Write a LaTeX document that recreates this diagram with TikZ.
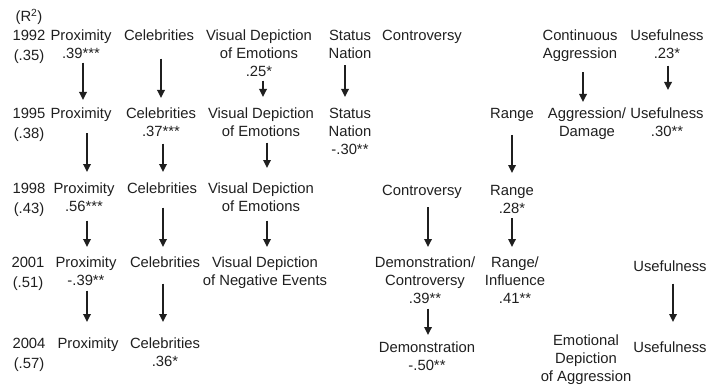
\documentclass[tikz,border=0pt]{standalone}
\usepackage{fontspec}
\setmainfont{Liberation Sans}
\usetikzlibrary{arrows.meta}
\tikzset{
  lbl/.style={inner sep=0pt, anchor=north, align=center, text=black!88,
    font=\fontsize{14.8}{18}\selectfont},
  yr/.style={lbl, font=\fontsize{14.8}{20}\selectfont},
  arr/.style={line width=1.7pt, draw=black!88, -{Triangle[length=8pt,width=7.5pt]}}
}
\begin{document}
\begin{tikzpicture}[x=1pt,y=-1pt]
\useasboundingbox (0,0) rectangle (706,385);
% top = line centre - 5.3
% years
\node[yr] (r2) at (29,9) {(R\textsuperscript{2})};
\node[yr] (y92) at (29,29.7) {1992\\(.35)};
\node[yr] (y95) at (29,107.7) {1995\\(.38)};
\node[yr] (y98) at (29,182.7) {1998\\(.43)};
\node[yr] (y01) at (28,256.7) {2001\\(.51)};
\node[yr] (y04) at (29,337.7) {2004\\(.57)};
% 1992
\node[lbl] (p92) at (81,29.7) {Proximity\\.39***};
\node[lbl] (c92) at (159,29.7) {Celebrities};
\node[lbl] (v92) at (259,29.7) {Visual Depiction\\of Emotions\\.25*};
\node[lbl] (s92) at (350,29.7) {Status\\Nation};
\node[lbl] (k92) at (422,29.7) {Controversy};
\node[lbl] (a92) at (580,29.7) {Continuous\\Aggression};
\node[lbl] (u92) at (667,29.7) {Usefulness\\.23*};
% 1995
\node[lbl] (p95) at (81,107.7) {Proximity};
\node[lbl] (c95) at (161,107.7) {Celebrities\\.37***};
\node[lbl] (v95) at (261,107.7) {Visual Depiction\\of Emotions};
\node[lbl] (s95) at (350,107.7) {Status\\Nation\\-.30**};
\node[lbl] (r95) at (512,107.7) {Range};
\node[lbl] (a95) at (587,107.7) {Aggression/\\Damage};
\node[lbl] (u95) at (667,107.7) {Usefulness\\.30**};
% 1998
\node[lbl] (p98) at (84,182.7) {Proximity\\.56***};
\node[lbl] (c98) at (162,182.7) {Celebrities};
\node[lbl] (v98) at (261,182.7) {Visual Depiction\\of Emotions};
\node[lbl] (k98) at (422,184.7) {Controversy};
\node[lbl] (r98) at (512,184.7) {Range\\.28*};
% 2001
\node[lbl] (p01) at (86,256.7) {Proximity\\-.39**};
\node[lbl] (c01) at (165,256.7) {Celebrities};
\node[lbl] (v01) at (265,256.7) {Visual Depiction\\of Negative Events};
\node[lbl] (d01) at (425,256.7) {Demonstration/\\Controversy\\.39**};
\node[lbl] (r01) at (515,256.7) {Range/\\Influence\\.41**};
\node[lbl] (u01) at (670,260.7) {Usefulness};
% 2004
\node[lbl] (p04) at (88,337.7) {Proximity};
\node[lbl] (c04) at (165,337.7) {Celebrities\\.36*};
\node[lbl] (d04) at (427,341.7) {Demonstration\\-.50**};
\node[lbl] (e04) at (586,334.7) {Emotional\\Depiction\\of Aggression};
\node[lbl] (u04) at (670,341.7) {Usefulness};
% arrows
\draw[arr, shorten <=3.7pt, shorten >=7.7pt] ([xshift=2pt]p92.south) -- ([xshift=2pt]p92.south |- p95.north);
\draw[arr, shorten <=17.7pt, shorten >=9.7pt] ([xshift=2pt]c92.south) -- ([xshift=2pt]c92.south |- c95.north);
\draw[arr, shorten <=3.7pt, shorten >=10.7pt] ([xshift=4pt]v92.south) -- ([xshift=4pt]v92.south |- v95.north);
\draw[arr, shorten <=6.7pt, shorten >=10.7pt] ([xshift=-5pt]s92.south) -- ([xshift=-5pt]s92.south |- s95.north);
\draw[arr, shorten <=10.6pt, shorten >=5.7pt] ([xshift=3pt]a92.south) -- ([xshift=3pt]a92.south |- a95.north);
\draw[arr, shorten <=6.7pt, shorten >=17.7pt] ([xshift=1pt]u92.south) -- ([xshift=1pt]u92.south |- u95.north);
\draw[arr, shorten <=11.6pt, shorten >=10.7pt] ([xshift=6pt]p95.south) -- ([xshift=6pt]p95.south |- p98.north);
\draw[arr, shorten <=6.7pt, shorten >=10.7pt] ([xshift=2pt]c95.south) -- ([xshift=2pt]c95.south |- c98.north);
\draw[arr, shorten <=5.7pt, shorten >=14.7pt] ([xshift=6pt]v95.south) -- ([xshift=6pt]v95.south |- v98.north);
\draw[arr, shorten <=13.6pt, shorten >=11.7pt] (r95.south) -- (r95.south |- r98.north);
\draw[arr, shorten <=8.7pt, shorten >=9.7pt] ([xshift=3pt]p98.south) -- ([xshift=3pt]p98.south |- p01.north);
\draw[arr, shorten <=13.7pt, shorten >=9.7pt] ([xshift=1pt]c98.south) -- ([xshift=1pt]c98.south |- c01.north);
\draw[arr, shorten <=8.7pt, shorten >=9.7pt] ([xshift=6pt]v98.south) -- ([xshift=6pt]v98.south |- v01.north);
\draw[arr, shorten <=8.6pt, shorten >=9.7pt] ([xshift=6pt]k98.south) -- ([xshift=6pt]k98.south |- d01.north);
\draw[arr, shorten <=4.7pt, shorten >=9.7pt] (r98.south) -- (r98.south |- r01.north);
\draw[arr, shorten <=4.7pt, shorten >=15.7pt] ([xshift=1pt]p01.south) -- ([xshift=1pt]p01.south |- p04.north);
\draw[arr, shorten <=15.7pt, shorten >=15.7pt] ([xshift=-2pt]c01.south) -- ([xshift=-2pt]c01.south |- c04.north);
\draw[arr, shorten <=4.7pt, shorten >=6.7pt] ([xshift=3pt]d01.south) -- ([xshift=3pt]d01.south |- d04.north);
\draw[arr, shorten <=11.7pt, shorten >=19.7pt] ([xshift=3pt]u01.south) -- ([xshift=3pt]u01.south |- u04.north);
\end{tikzpicture}
\end{document}
